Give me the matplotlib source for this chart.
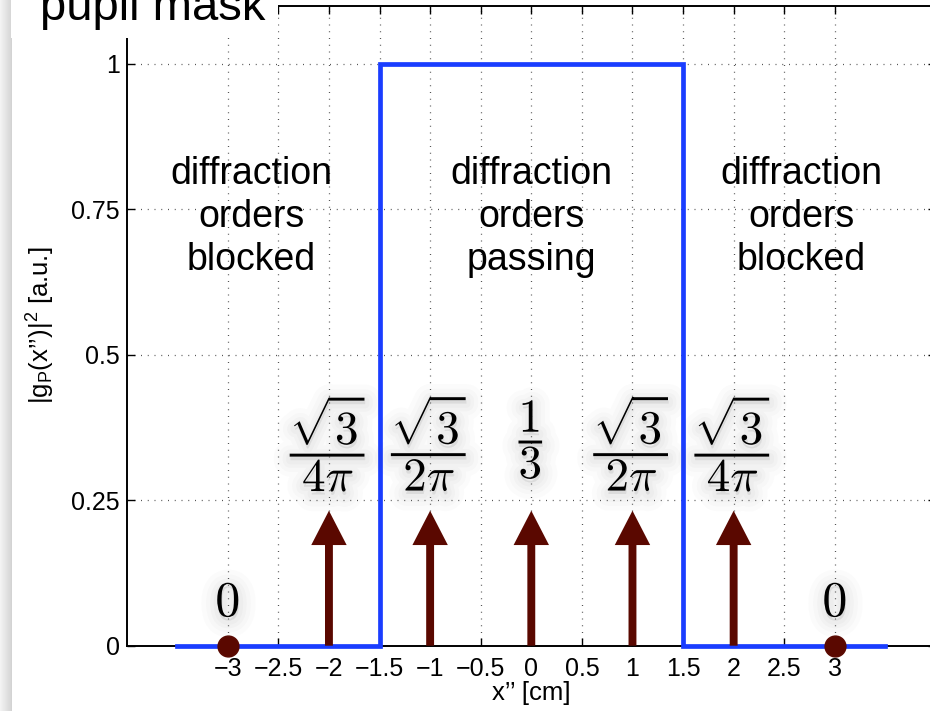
import numpy as np
import matplotlib
matplotlib.use("Agg")
import matplotlib.pyplot as plt
import matplotlib.patheffects as pe
from matplotlib.patches import Rectangle

plt.rcParams['font.family'] = ['Liberation Sans', 'DejaVu Sans']
plt.rcParams['mathtext.fontset'] = 'custom'
plt.rcParams['mathtext.rm'] = 'Liberation Sans'
plt.rcParams['mathtext.it'] = 'Liberation Sans'
plt.rcParams['mathtext.bf'] = 'Liberation Sans:bold'

# ---- data ----
mask_x = [-3.5, -1.5, -1.5, 1.5, 1.5, 3.5]
mask_y = [0, 0, 1, 1, 0, 0]
order_x = [-2, -1, 0, 1, 2]
order_height = [0.232, 0.232, 0.232, 0.232, 0.232]
order_labels = [r'$\dfrac{\sqrt{3}}{4\pi}$', r'$\dfrac{\sqrt{3}}{2\pi}$', r'$\dfrac{1}{3}$',
                r'$\dfrac{\sqrt{3}}{2\pi}$', r'$\dfrac{\sqrt{3}}{4\pi}$']
zero_x = [-3, 3]
zero_y = [0, 0]
zero_labels = [r'$0$', r'$0$']
region_x = [-2.77, 0.0, 2.67]
region_labels = ['diffraction\norders\nblocked', 'diffraction\norders\npassing',
                 'diffraction\norders\nblocked']
xticks = [-3, -2.5, -2, -1.5, -1, -0.5, 0, 0.5, 1, 1.5, 2, 2.5, 3]
xtick_labels = ['\u22123', '\u22122.5', '\u22122', '\u22121.5', '\u22121', '\u22120.5',
                '0', '0.5', '1', '1.5', '2', '2.5', '3']
yticks = [0, 0.25, 0.5, 0.75, 1]
ytick_labels = ['0', '0.25', '0.5', '0.75', '1']

BLUE = '#1a3dff'
MAROON = '#5a0800'


class Glow(pe.AbstractPathEffect):
    """Soft gray halo drawn behind a text (stroke + fill in a light colour)."""

    def __init__(self, offset=(0, 0), linewidth=10, color=(0.4, 0.4, 0.4, 0.03)):
        super().__init__(offset)
        self._lw = linewidth
        self._color = color

    def draw_path(self, renderer, gc, tpath, affine, rgbFace=None):
        gc0 = renderer.new_gc()
        gc0.copy_properties(gc)
        gc0.set_linewidth(self._lw)
        gc0.set_foreground(self._color)
        gc0.set_joinstyle('round')
        gc0.set_capstyle('round')
        renderer.draw_path(gc0, tpath, affine + self._offset_transform(renderer),
                           self._color)
        gc0.restore()


def glow_effects():
    eff = []
    for w, a in [(24, 0.02), (17, 0.025), (11, 0.03), (6, 0.03)]:
        eff.append(Glow(offset=(0.5, -2.5), linewidth=w, color=(0.35, 0.35, 0.35, a)))
    eff.append(pe.Normal())
    return eff


W, H = 930, 711
fig = plt.figure(figsize=(W / 100, H / 100), dpi=100)
fig.patch.set_facecolor('white')

ax_l, ax_r, ax_t, ax_b = 126.6, 936.0, 5.7, 645.7
ax = fig.add_axes([ax_l / W, 1 - ax_b / H, (ax_r - ax_l) / W, (ax_b - ax_t) / H])
ax.set_xlim(-4, 4)
ax.set_ylim(0, 1.1)

ax.set_xticks(xticks)
ax.set_xticklabels(xtick_labels)
ax.set_yticks(yticks)
ax.set_yticklabels(ytick_labels)
ax.tick_params(direction='in', length=6, width=1.0, top=True, right=True,
               labelsize=18, colors='black')
ax.tick_params(axis='x', pad=8)
ax.tick_params(axis='y', pad=5)
for s in ax.spines.values():
    s.set_linewidth(1.4)

ax.grid(True, color='#555555', linewidth=0.9, linestyle=(0, (0.8, 4.6)))
ax.set_axisbelow(True)

ax.set_xlabel('x\u2019\u2019 [cm]', fontsize=18.5, labelpad=0)
ax.set_ylabel('$|g_P(x\u2019\u2019)|^2$ [a.u.]', fontsize=18.5, labelpad=10)

# mask
ax.plot(mask_x, mask_y, color=BLUE, linewidth=3.4, solid_joinstyle='miter',
        clip_on=False, zorder=3)

# diffraction orders (arrows)
for x, h in zip(order_x, order_height):
    ax.arrow(x, 0, 0, h, width=0.078, head_width=0.35, head_length=0.059,
             length_includes_head=True, color=MAROON, linewidth=0, zorder=4)

ax.plot(zero_x, zero_y, 'o', color=MAROON, markersize=15, clip_on=False, zorder=5)

for x, lab in zip(order_x, order_labels):
    ax.text(x, 0.352, lab, ha='center', va='center', fontsize=34,
            math_fontfamily='cm', path_effects=glow_effects(), zorder=6)

for x, lab in zip(zero_x, zero_labels):
    ax.text(x, 0.073, lab, ha='center', va='center', fontsize=36,
            math_fontfamily='cm', path_effects=glow_effects(), zorder=6)

for x, lab in zip(region_x, region_labels):
    ax.text(x, 0.736, lab, ha='center', va='center', fontsize=27,
            linespacing=1.25, zorder=6)

# title patch covering the axes corner
fig.patches.append(Rectangle((11 / W, 1 - 38 / H), (278 - 11) / W, 38 / H,
                             transform=fig.transFigure, facecolor='white',
                             edgecolor='none', zorder=10))
fig.text(40 / W, 1 - 20.5 / H, 'pupil mask', fontsize=34, ha='left', va='baseline',
         zorder=11)

# left window shadow
sax = fig.add_axes([0, 0, 11 / W, 1])
grad = np.linspace(0.95, 0.83, 12).reshape(1, -1)
sax.imshow(grad, cmap='gray', vmin=0, vmax=1, aspect='auto', extent=(0, 1, 0, 1))
sax.set_axis_off()

fig.savefig('out.png', dpi=100)
